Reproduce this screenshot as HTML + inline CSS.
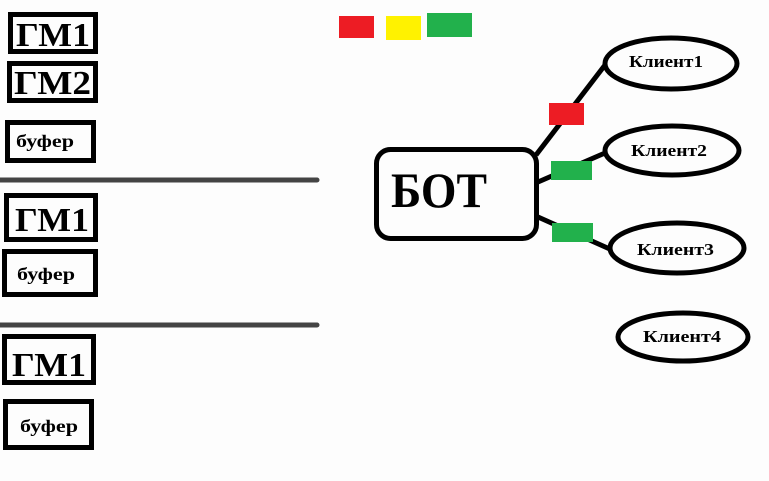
<!DOCTYPE html>
<html><head><meta charset="utf-8"><style>
html,body{margin:0;padding:0;background:#fdfdfd;}
svg{display:block;}
text{font-family:"Liberation Serif","DejaVu Serif",serif;font-weight:bold;fill:#000;}
</style></head><body>
<svg width="769" height="481" viewBox="0 0 769 481" xmlns="http://www.w3.org/2000/svg">
<rect width="769" height="481" fill="#fdfdfd"/>
<g fill="none" stroke="#000" stroke-width="5">
<rect x="10.5" y="14.5" width="85" height="37"/>
<rect x="9.5" y="63.5" width="86" height="37"/>
<rect x="7.5" y="122.5" width="86" height="38"/>
<rect x="6.5" y="195.5" width="89" height="44"/>
<rect x="4.5" y="251.5" width="91" height="43"/>
<rect x="4.5" y="336.5" width="89" height="46"/>
<rect x="5.5" y="401.5" width="86" height="46"/>
</g>
<g stroke="#444" stroke-width="5" stroke-linecap="round">
<line x1="0" y1="180" x2="317" y2="180"/>
<line x1="0" y1="325" x2="317" y2="325"/>
</g>
<text x="16" y="46" font-size="34" textLength="74" lengthAdjust="spacingAndGlyphs">ГМ1</text>
<text x="14" y="94" font-size="34" textLength="77" lengthAdjust="spacingAndGlyphs">ГМ2</text>
<text x="16" y="147" font-size="18" textLength="58" lengthAdjust="spacingAndGlyphs">буфер</text>
<text x="15" y="231" font-size="34" textLength="74" lengthAdjust="spacingAndGlyphs">ГМ1</text>
<text x="17" y="280" font-size="18" textLength="58" lengthAdjust="spacingAndGlyphs">буфер</text>
<text x="12" y="376" font-size="34" textLength="74" lengthAdjust="spacingAndGlyphs">ГМ1</text>
<text x="20" y="432" font-size="18" textLength="58" lengthAdjust="spacingAndGlyphs">буфер</text>
<rect x="339" y="16" width="35" height="22" fill="#ed1c24"/>
<rect x="386" y="16" width="35" height="24" fill="#fff200"/>
<rect x="427" y="13" width="45" height="24" fill="#22b14c"/>
<g stroke="#000" stroke-width="5" fill="none">
<line x1="536" y1="155" x2="605" y2="65"/>
<line x1="538" y1="182" x2="605" y2="153"/>
<line x1="538" y1="217" x2="612" y2="250"/>
<rect x="376.5" y="149.5" width="160" height="89" rx="14"/>
<ellipse cx="671" cy="63.5" rx="66" ry="25.5" fill="#fdfdfd"/>
<ellipse cx="672" cy="150.5" rx="67" ry="24.5" fill="#fdfdfd"/>
<ellipse cx="677" cy="248" rx="67" ry="25" fill="#fdfdfd"/>
<ellipse cx="683" cy="337" rx="65" ry="24" fill="#fdfdfd"/>
</g>
<rect x="549" y="103" width="35" height="22" fill="#ed1c24"/>
<rect x="551" y="161" width="41" height="19" fill="#22b14c"/>
<rect x="552" y="223" width="41" height="19" fill="#22b14c"/>
<text x="391" y="207" font-size="50" textLength="96" lengthAdjust="spacingAndGlyphs">БОТ</text>
<text x="629" y="67" font-size="17" textLength="74" lengthAdjust="spacingAndGlyphs">Клиент1</text>
<text x="631" y="156" font-size="17" textLength="76" lengthAdjust="spacingAndGlyphs">Клиент2</text>
<text x="637" y="255" font-size="17" textLength="77" lengthAdjust="spacingAndGlyphs">Клиент3</text>
<text x="643" y="342" font-size="17" textLength="78" lengthAdjust="spacingAndGlyphs">Клиент4</text>
</svg>
</body></html>
